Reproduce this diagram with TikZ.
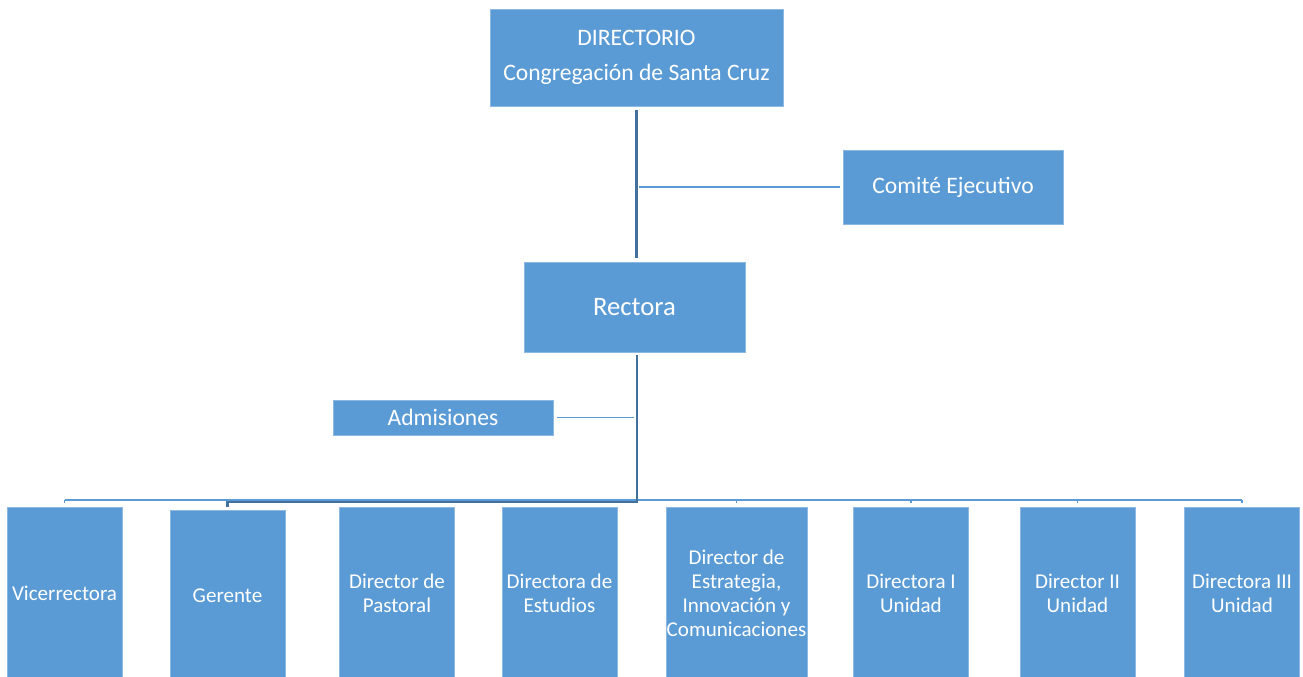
\documentclass[tikz,border=0pt]{standalone}
\usepackage{fontspec}
\setmainfont{Carlito}
\definecolor{boxblue}{HTML}{5B9BD5}
\definecolor{boxedge}{HTML}{8DB8E2}
\definecolor{trunkblue}{HTML}{41719C}
\tikzset{
  orgbox/.style={fill=boxblue, draw=boxedge, line width=0.6pt, text=white,
    align=center, inner sep=0pt, font=\fontsize{17.7}{26}\selectfont},
  lowbox/.style={orgbox, minimum width=86.25pt, minimum height=129pt,
    font=\fontsize{15.8}{18}\selectfont},
  trunk/.style={draw=trunkblue, line width=2.2pt},
  branch/.style={draw=boxblue, line width=1.1pt}
}

\begin{document}
\begin{tikzpicture}[x=0.75pt,y=-0.75pt]
        \useasboundingbox (0,0) rectangle (1303,677);
        % Draw the top boxes
        \node[orgbox, minimum width=219.75pt, minimum height=72.75pt] (dir) at (636.5,57.5)
            {DIRECTORIO\\Congregación de Santa Cruz};
        \node[orgbox, minimum width=165pt, minimum height=55.5pt] (com) at (953,187) {Comité Ejecutivo};
        \node[orgbox, minimum width=165.75pt, minimum height=67.5pt, font=\fontsize{20}{24}\selectfont]
            (rec) at (634.5,307) {Rectora};
        \node[orgbox, minimum width=165pt, minimum height=26.25pt] (adm) at (443,417.5) {Admisiones};
        % Draw the bottom row
        \node[lowbox] (vic) at (64.5,593) {Vicerrectora};
        \node[lowbox] (ger) at (227.5,596) {Gerente};
        \node[lowbox] (pas) at (397,593) {Director de\\Pastoral};
        \node[lowbox] (est) at (559.5,593) {Directora de\\Estudios};
        \node[lowbox, minimum width=105.75pt] (inn) at (736.5,593)
            {Director de\\Estrategia,\\Innovación y\\Comunicaciones};
        \node[lowbox] (uno) at (911,593) {Directora I\\Unidad};
        \node[lowbox] (dos) at (1077.5,593) {Director II\\Unidad};
        \node[lowbox] (tres) at (1242,593) {Directora III\\Unidad};
        \coordinate (bus) at (637,500);
        % Draw the connectors
        \draw[trunk, shorten <=3pt, shorten >=3pt] (dir.south) -- (dir.south |- rec.north);
        \draw[branch, shorten <=2pt, shorten >=2pt] (dir.south |- com.west) -- (com.west);
        \draw[branch, shorten <=2pt, shorten >=3pt] (bus |- adm.east) -- (adm.east);
        \draw[branch] (vic.north |- bus) -- (tres.north |- bus);
        \foreach \n in {vic,pas,est,inn,uno,dos,tres}
            \draw[branch, shorten >=3pt] (\n.north |- bus) -- (\n.north);
        \draw[trunk, shorten <=2pt] (bus |- rec.south) -- ([yshift=-1.5pt]bus)
            -- ([yshift=-1.5pt]bus -| ger.north) -- ([yshift=2pt]ger.north);
\end{tikzpicture}
\end{document}
